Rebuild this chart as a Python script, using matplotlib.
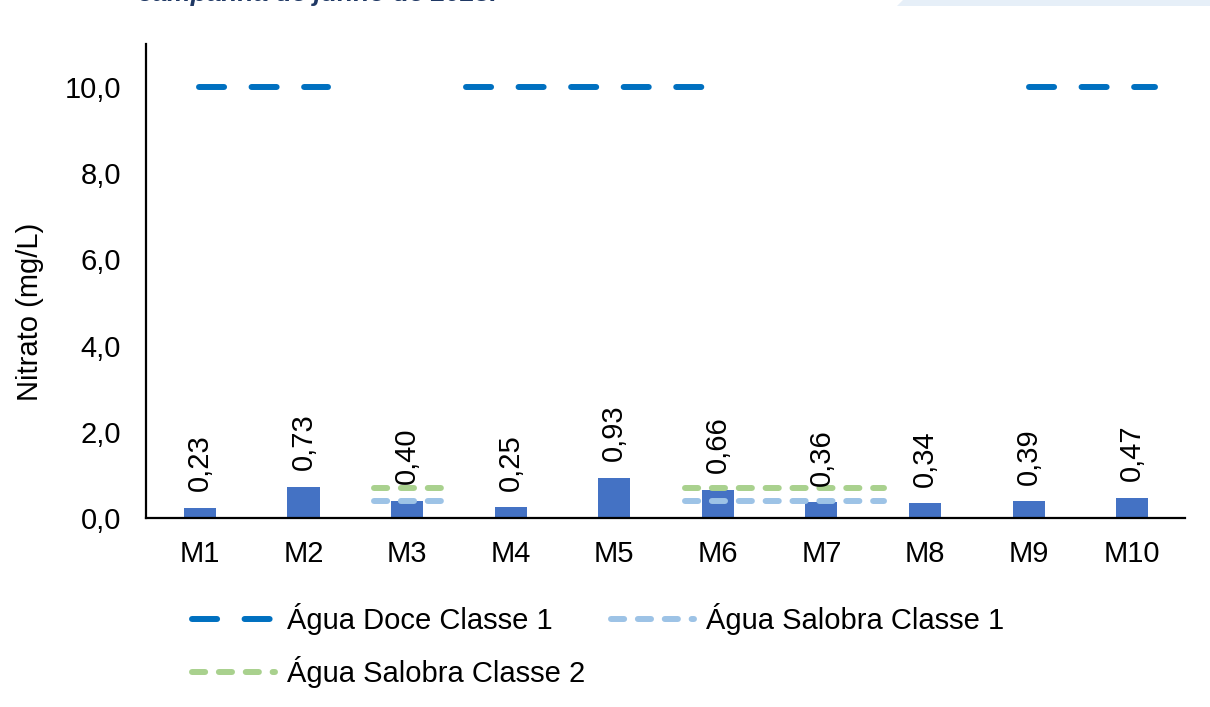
import numpy as np
import matplotlib
matplotlib.use("Agg")
import matplotlib.pyplot as plt
from matplotlib.patches import Polygon
from matplotlib.ticker import FuncFormatter

plt.rcParams['font.family'] = ['Liberation Sans', 'DejaVu Sans']

# ---- data ----
pontos = ['M1', 'M2', 'M3', 'M4', 'M5', 'M6', 'M7', 'M8', 'M9', 'M10']
nitrato = [0.23, 0.73, 0.40, 0.25, 0.93, 0.66, 0.36, 0.34, 0.39, 0.47]

# limits (mg/L) and the stretches of the category axis where each is drawn
lim_doce1 = 10.0
lim_salobra1 = 0.40
lim_salobra2 = 0.70
trechos_doce = [(-0.01, 1.24), (2.57, 4.86), (8.0, 9.22)]
trechos_salobra = [(1.68, 2.42), (4.68, 6.60)]

# ---- colours ----
cor_barra = '#4472C4'
cor_doce = '#0070C0'
cor_sal1 = '#9DC3E6'
cor_sal2 = '#A9D18E'

fs = 21

fig = plt.figure(figsize=(12.1, 7.07), dpi=100)
ax = fig.add_axes([146/1210, 1 - 518/707, 1039/1210, 474/707])

x = np.arange(len(pontos))
ax.bar(x, nitrato, width=0.31, color=cor_barra, zorder=2)

for xi, v in zip(x, nitrato):
    ax.annotate(f'{v:.2f}'.replace('.', ','), xy=(xi, v), xytext=(0, 12),
                textcoords='offset points', rotation=90, ha='center', va='bottom',
                fontsize=fs, color='black', zorder=4)

lw = 4.3
h_doce = h_sal1 = h_sal2 = None
for a, b in trechos_doce:
    h_doce, = ax.plot([a, b], [lim_doce1, lim_doce1], color=cor_doce, lw=lw,
                      dashes=(4.2, 4.6), dash_capstyle='round', zorder=3)
for a, b in trechos_salobra:
    h_sal2, = ax.plot([a, b], [lim_salobra2, lim_salobra2], color=cor_sal2, lw=lw,
                      dashes=(2.2, 2.3), dash_capstyle='round', zorder=3)
    h_sal1, = ax.plot([a, b], [lim_salobra1, lim_salobra1], color=cor_sal1, lw=lw,
                      dashes=(2.2, 2.3), dash_capstyle='round', zorder=3)

ax.set_xlim(-0.52, 9.51)
ax.set_ylim(0, 11)
ax.set_yticks(np.arange(0, 11, 2))
ax.yaxis.set_major_formatter(FuncFormatter(lambda v, p: f'{v:.1f}'.replace('.', ',')))
ax.set_xticks(x)
ax.set_xticklabels(pontos)
ax.tick_params(axis='both', length=0, labelsize=fs, colors='black')
ax.tick_params(axis='x', pad=16)
ax.tick_params(axis='y', pad=18)

for s in ['top', 'right']:
    ax.spines[s].set_visible(False)
for s in ['left', 'bottom']:
    ax.spines[s].set_color('black')
    ax.spines[s].set_linewidth(1.6)

ax.set_ylabel('Nitrato (mg/L)', fontsize=fs, color='black')
ax.yaxis.set_label_coords(-0.098, 0.435)

fig.legend([h_doce, h_sal2, h_sal1],
           ['Água Doce Classe 1', 'Água Salobra Classe 2', 'Água Salobra Classe 1'],
           ncol=2, loc='upper left', bbox_to_anchor=(192/1210, 1 - 603/707),
           frameon=False, fontsize=fs, handlelength=2.85, handletextpad=0.4,
           columnspacing=0.9, labelspacing=0.72, borderpad=0, borderaxespad=0)

# cropped caption at the top and the shaded box at the right corner
fig.text(138/1210, 1 - 1/707, 'campanha de junho de 2023.', fontsize=19,
         fontweight='bold', fontstyle='italic', color='#1F3864', va='baseline')
fig.patches.append(Polygon([[897/1210, 1 - 6/707], [1, 1 - 6/707], [1, 1], [903/1210, 1]],
                           closed=True, transform=fig.transFigure, facecolor='#E6EFF8',
                           edgecolor='none'))

fig.savefig('out.png', dpi=100)
